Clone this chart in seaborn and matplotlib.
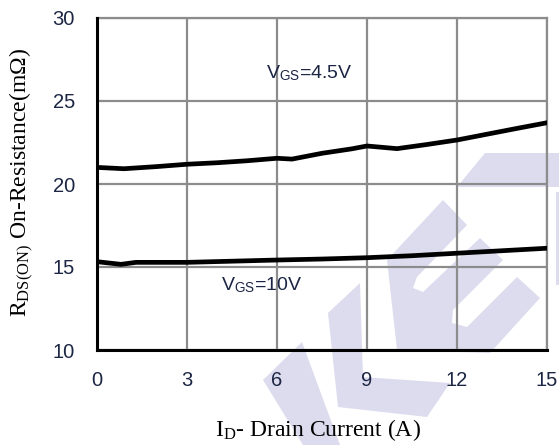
import matplotlib
matplotlib.use("Agg")
import matplotlib.pyplot as plt
import seaborn as sns
import pandas as pd
from matplotlib.patches import Polygon

# ---- data ----
id_45 = [0, 0.9, 2, 3, 4, 5, 6, 6.5, 7.5, 8.5, 9, 10, 11, 12, 13, 14, 15]
r_45 = [21.0, 20.92, 21.05, 21.19, 21.28, 21.4, 21.55, 21.5, 21.85, 22.12, 22.29, 22.13, 22.38, 22.65, 23.0, 23.35, 23.69]

id_10 = [0, 0.8, 1.3, 3, 4.5, 6, 7.5, 9, 10.5, 12, 13.5, 15]
r_10 = [15.32, 15.16, 15.28, 15.28, 15.35, 15.42, 15.48, 15.56, 15.68, 15.83, 15.98, 16.13]

x_ticks = [0, 3, 6, 9, 12, 15]
y_ticks = [10, 15, 20, 25, 30]
label_45 = r"V$_{\mathsf{GS}}$=4.5V"
label_10 = r"V$_{\mathsf{GS}}$=10V"
x_label = r"I$_{\mathrm{D}}$- Drain Current (A)"
y_label = r"R$_{\mathrm{DS(ON)}}$ On-Resistance(m$\Omega$)"

df = pd.concat([
    pd.DataFrame({"Id": id_45, "R": r_45, "Vgs": "4.5V"}),
    pd.DataFrame({"Id": id_10, "R": r_10, "Vgs": "10V"}),
])

sns.set_style("white")
plt.rcParams["font.family"] = ["Liberation Sans", "DejaVu Sans"]
plt.rcParams["mathtext.fontset"] = "custom"
plt.rcParams["mathtext.rm"] = "Liberation Serif"
plt.rcParams["mathtext.sf"] = "Liberation Sans"
plt.rcParams["mathtext.it"] = "Liberation Serif:italic"

W, H = 559, 445
fig = plt.figure(figsize=(W / 100, H / 100), dpi=100)
fig.patch.set_facecolor("white")

# ---- faint background watermark (decoration, figure pixel coords) ----
wm_color = "#dcdcee"
watermark = [
    [(457, 187), (485, 153), (559, 153), (559, 187)],
    [(556, 192), (559, 192), (559, 285), (556, 285)],
    [(263, 380), (302, 342), (340, 445), (303, 445)],
    [(328, 313), (360, 283), (363, 377), (450, 383), (427, 417), (338, 407)],
    [(387, 260), (443, 200), (467, 225), (417, 277), (413, 288), (423, 292),
     (480, 238), (503, 260), (453, 310), (452, 323), (467, 327), (517, 277),
     (540, 298), (490, 353), (397, 350)],
]
for poly in watermark:
    pts = [(px / W, 1 - py / H) for px, py in poly]
    fig.patches.append(Polygon(pts, closed=True, transform=fig.transFigure,
                               facecolor=wm_color, edgecolor="none", zorder=-5))

ax = fig.add_axes([97 / W, 1 - 350 / H, 450 / W, 332 / H])
ax.patch.set_alpha(0)

sns.lineplot(data=df, x="Id", y="R", hue="Vgs", palette=["black", "black"],
             linewidth=3.4, legend=False, ax=ax, zorder=3, sort=False)

ax.set_xlim(0, 15)
ax.set_ylim(10, 30)
ax.set_xticks(x_ticks)
ax.set_yticks(y_ticks)
ax.grid(True, color="#8c8c8c", linewidth=1.6)
ax.set_axisbelow(True)

tick_color = "#1c2644"
ax.tick_params(axis="both", length=0, labelsize=14.5, labelcolor=tick_color)
ax.tick_params(axis="x", pad=15)
ax.tick_params(axis="y", pad=16)

for s in ["left", "bottom"]:
    ax.spines[s].set_color("black")
    ax.spines[s].set_linewidth(2.2)
    ax.spines[s].set_zorder(4)
for s in ["top", "right"]:
    ax.spines[s].set_color("#8c8c8c")
    ax.spines[s].set_linewidth(1.6)

ax.text(5.64, 26.7, label_45, fontsize=14, color=tick_color, va="center", ha="left")
ax.text(4.13, 13.9, label_10, fontsize=14, color=tick_color, va="center", ha="left")

ax.set_xlabel(x_label, fontsize=17, fontfamily="Liberation Serif", color="black")
ax.xaxis.set_label_coords((318 - 97) / 450, (350 - 430) / 332)
ax.xaxis.label.set_va("center")
ax.set_ylabel(y_label, fontsize=17, fontfamily="Liberation Serif", color="black")
ax.yaxis.set_label_coords((22 - 97) / 450, 0.505)
ax.yaxis.label.set_va("center")

fig.savefig("out.png", dpi=100)
